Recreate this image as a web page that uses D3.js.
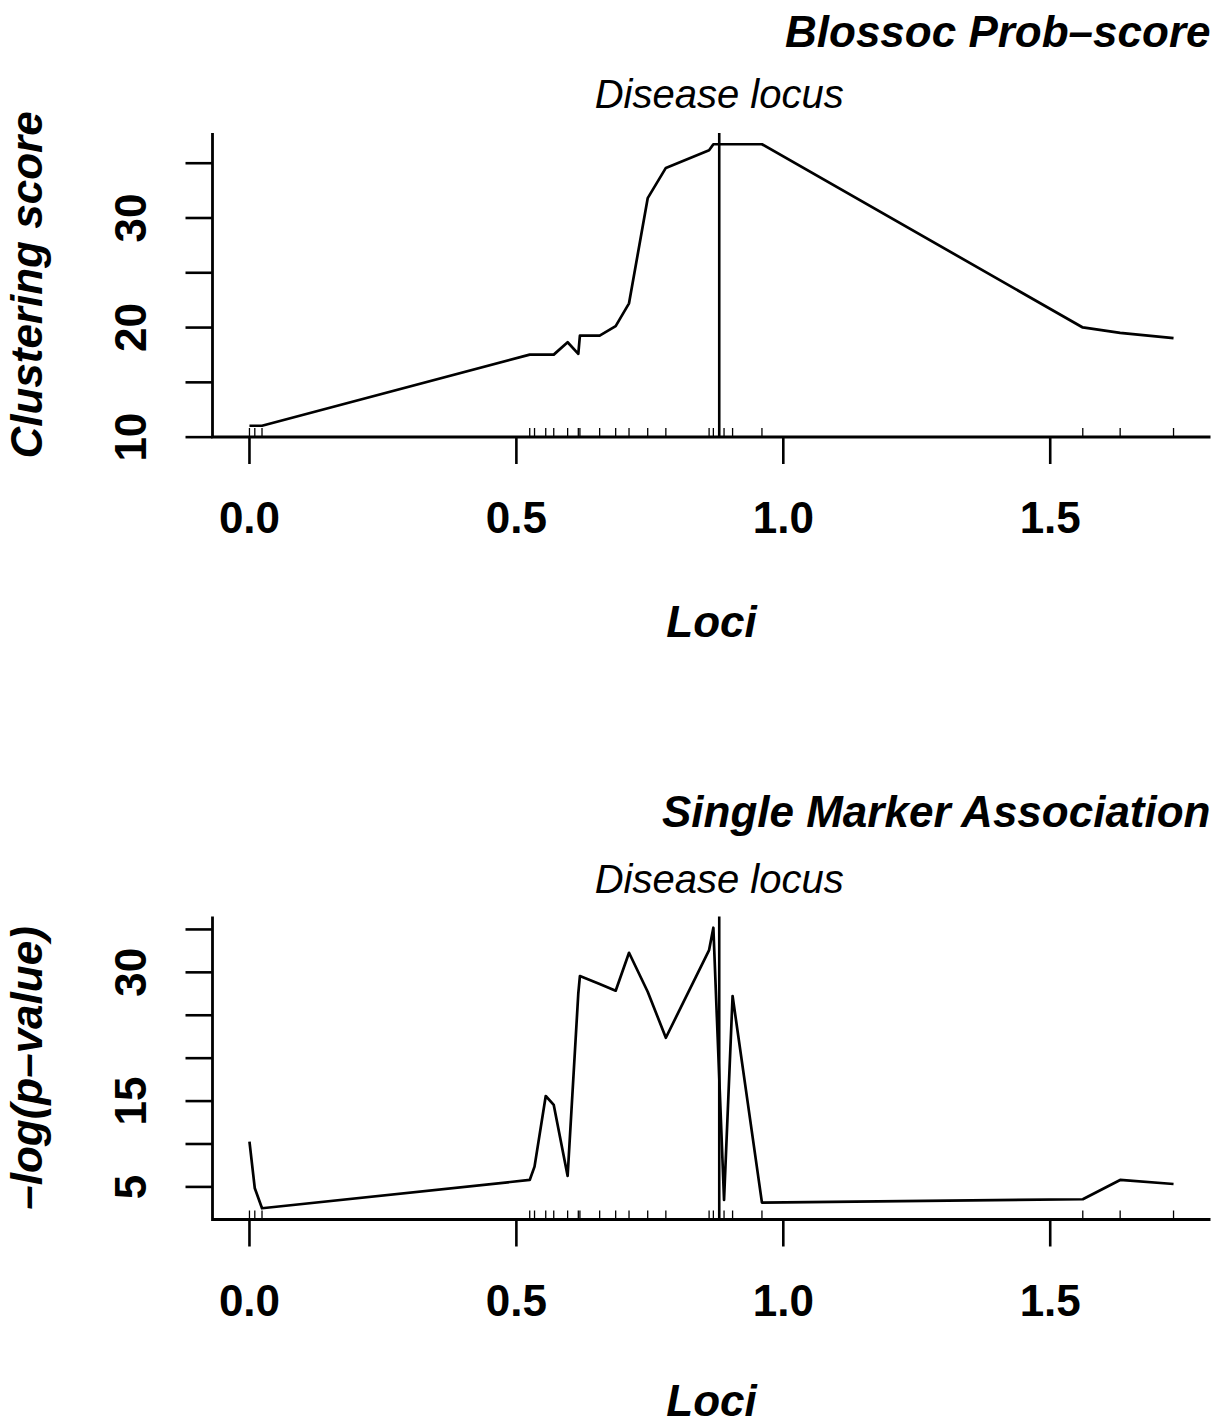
<!DOCTYPE html>
<html>
<head>
<meta charset="utf-8">
<script src="https://cdn.jsdelivr.net/npm/d3@7"></script>
<style>
  html, body { margin: 0; padding: 0; background: #fff; }
  svg { display: block; font-family: "Liberation Sans", Arial, Helvetica, sans-serif; }
</style>
</head>
<body>
<div id="chart"></div>
<script>
// Marker positions along the region (same for both panels)
const loci = [0.0, 0.01, 0.0235, 0.525, 0.534, 0.555, 0.570, 0.596, 0.616, 0.619, 0.656,
  0.686, 0.711, 0.746, 0.780, 0.861, 0.869, 0.889, 0.905, 0.960, 1.561, 1.631, 1.731];

// Blossoc clustering score at each marker
const blossocScore = [11.04, 11.04, 11.04, 17.53, 17.53, 17.53, 17.53, 18.66, 17.6, 19.27, 19.27,
  20.13, 22.21, 31.81, 34.57, 36.18, 36.73, 36.73, 36.73, 36.73, 20.01, 19.52, 19.03];

// Single marker association, -log(p-value)
const singleMarker = [10.27, 4.84, 2.51, 5.81, 7.36, 15.59, 14.55, 6.28, 27.56, 29.57, 28.65,
  27.86, 32.28, 27.74, 22.38, 32.6, 35.2, 3.48, 27.24, 3.17, 3.56, 5.81, 5.34];

const diseaseLocus = 0.880;

const xTicks = [0.0, 0.5, 1.0, 1.5];
const topYTicks = [10, 15, 20, 25, 30, 35];
const topYLabels = [10, 20, 30];
const botYTicks = [5, 10, 15, 20, 25, 30, 35];
const botYLabels = [5, 15, 30];

const W = 1221, H = 1423;
const left = 212.5, right = 1210.5;

const panels = [
  { title: 'Blossoc Prob\u2013score', ylab: 'Clustering score', values: blossocScore,
    top: 133, bottom: 437, ticks: topYTicks, labels: topYLabels, titleOff: 86.5, locusOff: 25, lociOff: 200 },
  { title: 'Single Marker Association', ylab: '\u2013log(p\u2013value)', values: singleMarker,
    top: 916.5, bottom: 1219.5, ticks: botYTicks, labels: botYLabels, titleOff: 90, locusOff: 23.5, lociOff: 196 },
];

// R-style 4% range extension
const pad = ([a, b]) => { const d = (b - a) * 0.04; return [a - d, b + d]; };

const svg = d3.select('#chart').append('svg')
  .attr('width', W).attr('height', H)
  .attr('viewBox', `0 0 ${W} ${H}`);

const x = d3.scaleLinear().domain(pad(d3.extent(loci))).range([left, right]);

panels.forEach(p => {
  const y = d3.scaleLinear().domain(pad(d3.extent(p.values))).range([p.bottom, p.top]);
  const g = svg.append('g');

  // L-shaped box
  g.append('path')
    .attr('d', `M${left},${p.top}V${p.bottom}H${right}`)
    .attr('fill', 'none').attr('stroke', '#000').attr('stroke-width', 2.8);

  // x ticks + labels
  g.selectAll('line.xt').data(xTicks).join('line')
    .attr('x1', d => x(d)).attr('x2', d => x(d))
    .attr('y1', p.bottom).attr('y2', p.bottom + 27)
    .attr('stroke', '#000').attr('stroke-width', 2.6);
  g.selectAll('text.xl').data(xTicks).join('text')
    .attr('x', d => x(d)).attr('y', p.bottom + 96)
    .attr('text-anchor', 'middle')
    .style('font-size', '44px').style('font-weight', 'bold')
    .text(d => d.toFixed(1));

  // y ticks + labels (parallel to the axis)
  g.selectAll('line.yt').data(p.ticks).join('line')
    .attr('x1', left - 27).attr('x2', left)
    .attr('y1', d => y(d)).attr('y2', d => y(d))
    .attr('stroke', '#000').attr('stroke-width', 2.6);
  g.selectAll('text.yl').data(p.labels).join('text')
    .attr('transform', d => `translate(146,${y(d)}) rotate(-90)`)
    .attr('text-anchor', 'middle')
    .style('font-size', '44px').style('font-weight', 'bold')
    .text(d => d);

  // rug of marker positions
  g.selectAll('line.rug').data(loci).join('line')
    .attr('x1', d => x(d)).attr('x2', d => x(d))
    .attr('y1', p.bottom).attr('y2', p.bottom - 9)
    .attr('stroke', '#000').attr('stroke-width', 1.3);

  // score curve
  g.append('path')
    .datum(loci.map((l, i) => [l, p.values[i]]))
    .attr('d', d3.line().x(d => x(d[0])).y(d => y(d[1])))
    .attr('fill', 'none').attr('stroke', '#000').attr('stroke-width', 2.7)
    .attr('stroke-linejoin', 'round');

  // disease locus
  g.append('line')
    .attr('x1', x(diseaseLocus)).attr('x2', x(diseaseLocus))
    .attr('y1', p.top).attr('y2', p.bottom)
    .attr('stroke', '#000').attr('stroke-width', 2.6);
  g.append('text')
    .attr('x', x(diseaseLocus)).attr('y', p.top - p.locusOff)
    .attr('text-anchor', 'middle')
    .style('font-size', '40px').style('font-style', 'italic')
    .text('Disease locus');

  // titles
  g.append('text')
    .attr('x', right).attr('y', p.top - p.titleOff)
    .attr('text-anchor', 'end')
    .style('font-size', '44px').style('font-weight', 'bold').style('font-style', 'italic')
    .text(p.title);
  g.append('text')
    .attr('x', (left + right) / 2).attr('y', p.bottom + p.lociOff)
    .attr('text-anchor', 'middle')
    .style('font-size', '44px').style('font-weight', 'bold').style('font-style', 'italic')
    .text('Loci');
  g.append('text')
    .attr('transform', `translate(42,${(p.top + p.bottom) / 2}) rotate(-90)`)
    .attr('text-anchor', 'middle')
    .style('font-size', '44px').style('font-weight', 'bold').style('font-style', 'italic')
    .text(p.ylab);
});
</script>
</body>
</html>
